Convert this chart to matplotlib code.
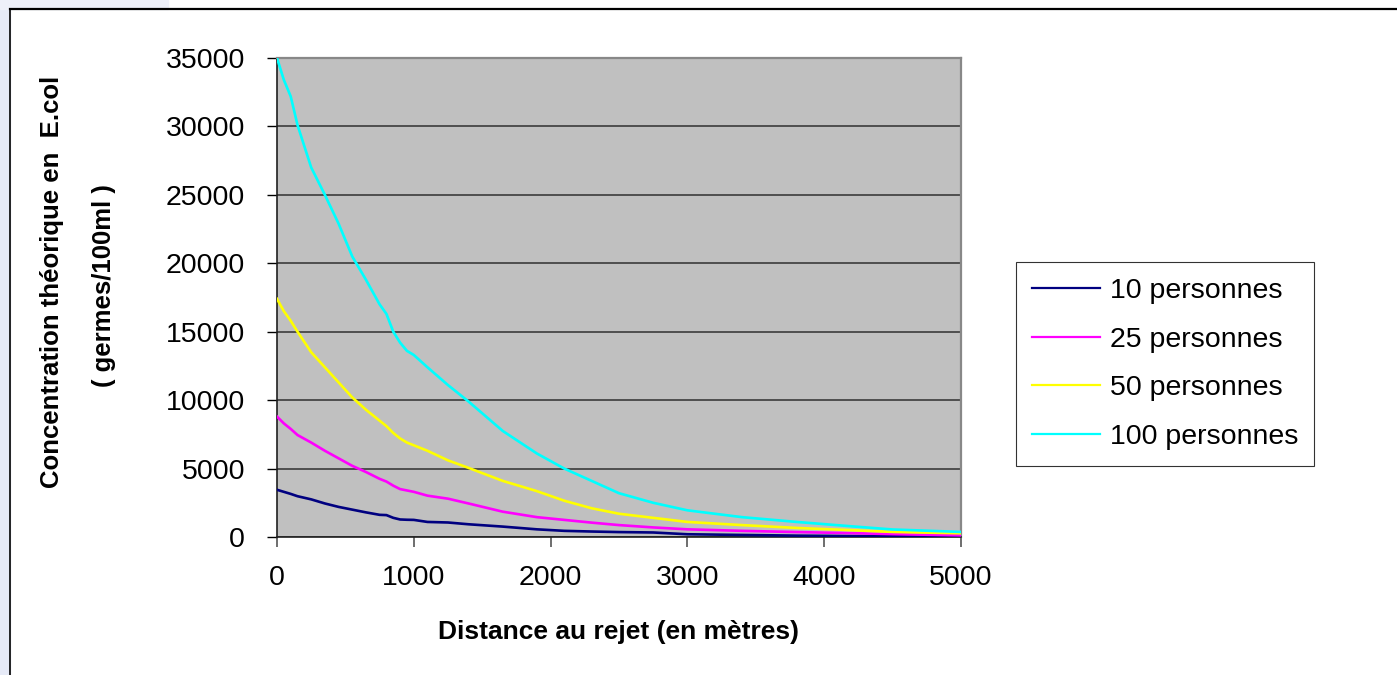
import matplotlib
matplotlib.use('Agg')
from matplotlib import pyplot as plt
from matplotlib.lines import Line2D
from matplotlib.patches import Rectangle

# distance au rejet (m)
distance = [0, 50, 100, 150, 250, 350, 450, 550, 650, 750, 800, 850, 900, 950,
            1000, 1100, 1250, 1400, 1650, 1900, 2100, 2300, 2500, 2750, 3000,
            3400, 3800, 4200, 4500, 5000]

# concentration (germes/100ml) per population
conc_10 = [3450, 3300, 3150, 2980, 2750, 2450, 2200, 2000, 1800, 1620, 1600,
           1400, 1280, 1260, 1250, 1100, 1060, 930, 760, 560, 450, 400, 360,
           330, 200, 150, 100, 70, 50, 30]
conc_25 = [8800, 8300, 7900, 7450, 6900, 6300, 5750, 5200, 4750, 4250, 4050,
           3750, 3500, 3400, 3300, 3020, 2800, 2450, 1850, 1450, 1250, 1050,
           870, 700, 560, 450, 360, 280, 210, 120]
conc_50 = [17400, 16500, 15800, 15000, 13500, 12400, 11300, 10200, 9300, 8500,
           8100, 7600, 7200, 6900, 6700, 6300, 5600, 5050, 4100, 3350, 2650,
           2100, 1700, 1400, 1100, 870, 660, 500, 370, 270]
conc_100 = [35000, 33400, 32200, 30100, 27000, 25000, 22900, 20500, 18800,
            17000, 16300, 15000, 14200, 13600, 13300, 12400, 11100, 9900, 7750,
            6100, 5000, 4100, 3200, 2500, 1950, 1450, 1100, 780, 550, 370]

labels = ['10 personnes', '25 personnes', '50 personnes', '100 personnes']
colors = ['#000080', '#ff00ff', '#ffff00', '#00ffff']

plt.rcParams['font.family'] = ['Liberation Sans', 'DejaVu Sans']

W, H = 1397, 675
fig = plt.figure(figsize=(W / 100, H / 100), dpi=100)
fig.patch.set_facecolor('white')

# faint background strip on the left, and the outer chart frame
fig.add_artist(Rectangle((0, 0), 10 / W, 1, transform=fig.transFigure,
                         color='#e6eaf7', zorder=0))
fig.add_artist(Rectangle((0, 1 - 9 / H), 0.12, 9 / H, transform=fig.transFigure,
                         color='#eef0f9', zorder=0))
fig.add_artist(Line2D([10 / W, 10 / W], [0, 1 - 9 / H], transform=fig.transFigure,
                      color='black', lw=1.2))
fig.add_artist(Line2D([10 / W, 1], [1 - 9 / H, 1 - 9 / H], transform=fig.transFigure,
                      color='black', lw=1.6))

ax = fig.add_axes([277 / W, 1 - 537 / H, (961 - 277) / W, (537 - 58) / H])
ax.set_facecolor('#c0c0c0')

for ys, lab, col in zip([conc_10, conc_25, conc_50, conc_100], labels, colors):
    ax.plot(distance, ys, color=col, lw=1.9, label=lab, zorder=3)

ax.set_xlim(0, 5000)
ax.set_ylim(0, 35000)
ax.set_xticks(range(0, 5001, 1000))
ax.set_yticks(range(0, 35001, 5000))
ax.yaxis.grid(True, color='#303030', lw=1.1)
ax.set_axisbelow(True)

for side in ['top', 'right']:
    ax.spines[side].set_color('#888888')
    ax.spines[side].set_linewidth(1.6)
for side in ['left', 'bottom']:
    ax.spines[side].set_color('#202020')
    ax.spines[side].set_linewidth(1.2)

ax.tick_params(axis='y', direction='out', length=7, width=1, colors='black',
               labelsize=20.5, pad=16)
ax.tick_params(axis='x', direction='out', length=7, width=1.2, colors='#555555',
               labelcolor='black', labelsize=20.5, pad=13)

ax.set_xlabel('Distance au rejet (en mètres)', fontsize=19, fontweight='bold',
              labelpad=21)

fig.text(52 / W, 1 - 282 / H, 'Concentration théorique en  E.col', rotation=90,
         ha='center', va='center', fontsize=18.5, fontweight='bold')
fig.text(104 / W, 1 - 286 / H, '( germes/100ml )', rotation=90,
         ha='center', va='center', fontsize=18.5, fontweight='bold')

leg = fig.legend(loc='center left', bbox_to_anchor=(1016 / W, 1 - 364 / H),
                 fontsize=20.5, frameon=True, fancybox=False, handlelength=2.4,
                 handletextpad=0.35, labelspacing=0.8, borderpad=0.55,
                 borderaxespad=0)
leg.get_frame().set_edgecolor('black')
leg.get_frame().set_linewidth(0.8)
for h in leg.get_lines():
    h.set_linewidth(1.6)

fig.savefig('out.png', dpi=100)
